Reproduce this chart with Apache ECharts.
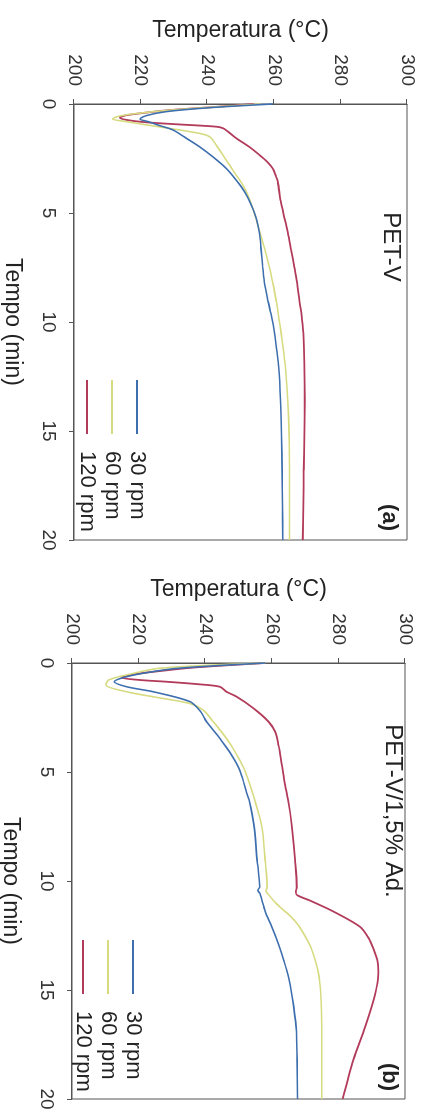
<!DOCTYPE html>
<html>
<head>
<meta charset="utf-8">
<script src="https://cdn.jsdelivr.net/npm/echarts@6/dist/echarts.min.js"></script>
<style>
  html, body { margin: 0; padding: 0; background: #fff; overflow: hidden; }
  #wrap { position: absolute; left: 0; top: 0; width: 428px; height: 1114px; overflow: hidden; }
  /* the figure is printed turned a quarter clockwise */
  #chart { position: absolute; left: 0; top: 0; width: 1114px; height: 428px;
           transform-origin: 0 0; transform: translateX(428px) rotate(90deg); }
</style>
</head>
<body>
<div id="wrap"><div id="chart"></div></div>
<script>
// Tempo (min) axis and Temperatura (°C) axis
const tempoRange = [0, 20, 5]
const tempRange = [200, 300, 20]
const seriesNames = ['30 rpm', '60 rpm', '120 rpm']
const panelTitles = ['PET-V', 'PET-V/1,5% Ad.']
const panelTags = ['(a)', '(b)']

// (a) PET-V  — [tempo, temperatura]
const a30 = [[0,259.7],[0.17,240.7],[0.35,227.7],[0.53,221.8],[0.69,219.8],[0.81,222.3],[0.99,225.7],[1.19,229.7],[1.57,233.7],[1.96,237.7],[2.42,241.7],[2.95,245.7],[3.49,248.7],[4.02,251.2],[4.63,253.2],[5.24,254.7],[5.93,255.7],[6.7,256.2],[7.5,256.7],[8.23,257.2],[9,258.2],[9.8,259.4],[10.5,260.2],[11.3,260.9],[12.1,261.5],[13.6,262],[15.2,262.3],[16.8,262.5],[18.4,262.6],[20,262.7]]
const a60 = [[0,256],[0.12,244],[0.28,229],[0.45,218],[0.58,213],[0.69,211.6],[0.81,215.8],[0.96,221.8],[1.12,228.7],[1.35,237.7],[1.5,240.7],[1.88,242.7],[2.34,244.7],[2.8,246.7],[3.26,248.7],[3.72,250.7],[4.17,252.2],[4.79,253.7],[5.7,255.5],[6.5,257],[7.5,258.7],[8.2,259.7],[9,260.7],[9.8,261.5],[10.5,262.2],[11.3,262.9],[12.1,263.5],[13.6,264.2],[15.2,264.6],[16.8,264.7],[20,264.7]]
const a120 = [[0,254],[0.12,243.7],[0.28,228.7],[0.43,219.8],[0.53,215.3],[0.63,213.8],[0.73,215.8],[0.84,221.7],[0.93,230.7],[1.04,242.7],[1.11,244.7],[1.3,246.5],[1.57,248.7],[1.95,252.5],[2.34,255.7],[2.65,258],[2.96,259.7],[3.3,260.6],[3.57,261.2],[4.4,262],[4.95,262.8],[5.9,264.2],[6.7,265.2],[7.5,266.2],[8.2,267],[9,267.7],[9.8,268.4],[10.5,268.9],[12.1,269.2],[13.6,269.3],[15.2,269.2],[16.8,269],[18.4,268.9],[20,268.7]]

// (b) PET-V/1,5% Ad.
const b30 = [[0,258],[0.25,231.4],[0.47,221.4],[0.67,215.4],[0.86,212.7],[1.09,216.4],[1.32,224.4],[1.77,235.4],[2.2,238.5],[2.69,240.4],[3.07,242.4],[3.46,244.4],[4.22,247.9],[4.98,250.5],[5.98,252.5],[6.36,253.3],[7.5,254.7],[9.06,255.6],[10.27,256.4],[10.42,255.8],[10.6,256.5],[11.4,258],[12.1,260],[12.9,262],[13.6,263.5],[14.4,265],[15.2,266],[16.7,267.3],[18.2,267.6],[20,267.7]]
const b60 = [[0,258],[0.24,226.4],[0.55,216.4],[0.78,211],[1.01,210.2],[1.32,216.4],[1.55,224.4],[1.86,235.4],[2.16,239.4],[2.69,242.4],[3.46,246.4],[4.22,249.5],[4.98,252],[6.36,255],[7.5,257],[9.06,258],[10.3,258.6],[10.45,258.2],[10.6,258.9],[10.9,260.5],[11.2,262.5],[11.6,265.5],[12.0,267.8],[12.4,269.5],[13.0,271.6],[13.6,273],[14.4,274.2],[15.2,274.7],[16.7,275],[20,275]]
const b120 = [[0,258],[0.21,236.4],[0.37,226.4],[0.52,218.4],[0.67,214.9],[0.78,220.4],[0.86,228.4],[0.98,238.4],[1.09,244.4],[1.32,246.4],[1.55,249.5],[2.08,254.5],[2.69,259],[3.15,261],[3.76,262],[4.68,263],[5.6,264],[6.36,265],[7.5,266],[9.06,267],[10.3,267.5],[10.5,267.2],[10.65,267.6],[10.9,271.5],[11.4,278.5],[12.1,286.5],[12.6,289],[13.1,290.5],[13.7,291.8],[14.2,292],[15.2,291],[16.7,288],[18.2,284.5],[20,281.3]]

const panelData = [[a30, a60, a120], [b30, b60, b120]]
const colors = ['#3d6fae', '#d6db80', '#b23a5a']

const font = '"Liberation Sans", Arial, sans-serif'
const ink = '#222'
const axisColor = '#555'
const grids = [
  { left: 104, top: 21, width: 436, height: 333 },
  { left: 663, top: 23, width: 436, height: 333 }
]

const chart = echarts.init(document.getElementById('chart'), null, { renderer: 'canvas' })

const option = {
  animation: false,
  backgroundColor: '#fff',
  textStyle: { fontFamily: font },
  grid: grids.map(g => Object.assign({
    show: true, borderColor: axisColor, borderWidth: 1,
    containLabel: false, outerBoundsMode: 'none'
  }, g)),
  xAxis: grids.map((g, i) => ({
    gridIndex: i,
    type: 'value',
    min: tempoRange[0], max: tempoRange[1], interval: tempoRange[2],
    name: 'Tempo (min)',
    nameLocation: 'middle',
    nameGap: 50,
    nameTextStyle: { fontSize: 23, color: ink, fontFamily: font },
    axisLine: { show: true, lineStyle: { color: axisColor, width: 1 } },
    axisTick: { show: true, inside: false, length: 5, lineStyle: { color: axisColor } },
    axisLabel: { fontSize: 19, color: '#333', margin: 16, fontFamily: font },
    splitLine: { show: false }
  })),
  yAxis: grids.map((g, i) => ({
    gridIndex: i,
    type: 'value',
    min: tempRange[0], max: tempRange[1], interval: tempRange[2],
    name: 'Temperatura (°C)',
    nameLocation: 'middle',
    nameRotate: 90,
    nameGap: 62,
    nameTextStyle: { fontSize: 23, color: ink, fontFamily: font },
    axisLine: { show: true, lineStyle: { color: axisColor, width: 1 } },
    axisTick: { show: true, inside: false, length: 5, lineStyle: { color: axisColor } },
    axisLabel: { fontSize: 19, color: '#333', margin: 18, fontFamily: font },
    splitLine: { show: false }
  })),
  legend: [
    { left: 375, top: 275 },
    { left: 935, top: 279 }
  ].map(p => Object.assign({
    orient: 'vertical',
    data: seriesNames,
    icon: 'rect',
    itemWidth: 54,
    itemHeight: 2,
    itemGap: 3,
    selectedMode: false,
    textStyle: { fontSize: 22, lineHeight: 22, color: ink, fontFamily: font, padding: [0, 0, 0, 12] }
  }, p)),
  graphic: [
    { type: 'text', x: 247, y: 25, style: { text: panelTitles[0], fontSize: 24, fontFamily: font, fill: ink, align: 'center', verticalAlign: 'top' } },
    { type: 'text', x: 811, y: 23, style: { text: panelTitles[1], fontSize: 24, fontFamily: font, fill: ink, align: 'center', verticalAlign: 'top' } },
    { type: 'text', x: 531, y: 28, style: { text: panelTags[0], fontSize: 22, fontWeight: 'bold', fontFamily: font, fill: ink, align: 'right', verticalAlign: 'top' } },
    { type: 'text', x: 1091, y: 28, style: { text: panelTags[1], fontSize: 22, fontWeight: 'bold', fontFamily: font, fill: ink, align: 'right', verticalAlign: 'top' } }
  ],
  series: []
}

panelData.forEach((set, p) => {
  set.forEach((data, k) => {
    option.series.push({
      name: seriesNames[k],
      type: 'line',
      xAxisIndex: p,
      yAxisIndex: p,
      data: data,
      symbol: 'none',
      smooth: 0.3,
      color: colors[k],
      itemStyle: { color: colors[k] },
      lineStyle: { color: colors[k], width: k === 2 ? 1.8 : 1.6 },
      z: 3 - k
    })
  })
})

chart.setOption(option)
</script>
</body>
</html>
